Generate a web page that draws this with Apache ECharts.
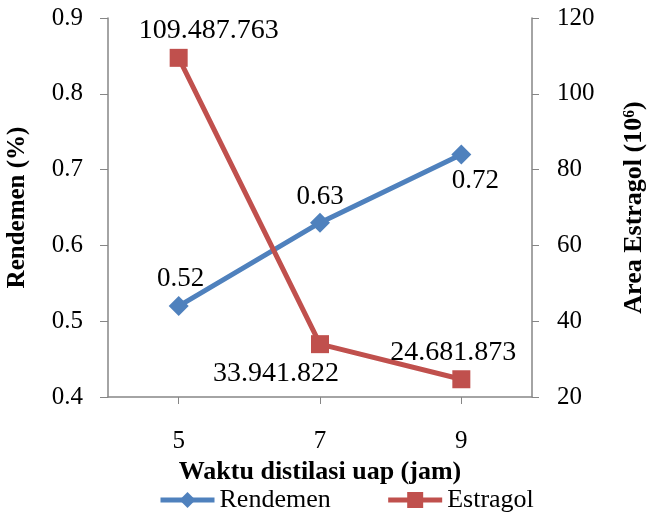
<!DOCTYPE html>
<html>
<head>
<meta charset="utf-8">
<script src="https://cdn.jsdelivr.net/npm/echarts@6/dist/echarts.min.js"></script>
<style>
  html, body { margin: 0; padding: 0; background: #fff; }
  #chart { width: 647px; height: 514px; }
</style>
</head>
<body>
<div id="chart"></div>
<script>
// Distillation time (hours)
const categories = ['5', '7', '9'];
// Yield (%)
const rendemen = [0.52, 0.63, 0.72];
const rendemenLabels = ['0.52', '0.63', '0.72'];
// Estragol peak area (x10^6)
const estragol = [109.487763, 33.941822, 24.681873];
const estragolLabels = ['109.487.763', '33.941.822', '24.681.873'];

const FONT = '"Liberation Serif", "Times New Roman", serif';
const AXIS_GRAY = '#868686';
const BLUE = '#4F81BD';
const RED = '#C0504D';

// per-point label placement
const rendemenPos = [
  { position: 'top', offset: [2, 1] },
  { position: 'top', offset: [0, 3] },
  { position: 'bottom', offset: [14, -2] }
];
const estragolPos = [
  { position: 'top', offset: [30, 1] },
  { position: 'bottom', offset: [-44, 1] },
  { position: 'top', offset: [-8, 1] }
];

const chart = echarts.init(document.getElementById('chart'), null, { renderer: 'canvas' });

chart.setOption({
  animation: false,
  textStyle: { fontFamily: FONT },
  grid: { left: 108, right: 115, top: 18, bottom: 117, containLabel: false, outerBoundsMode: 'none' },
  legend: {
    bottom: -4,
    left: 153,
    itemGap: 55,
    itemWidth: 54,
    itemHeight: 20,
    textStyle: { fontFamily: FONT, fontSize: 26, color: '#000' },
    lineStyle: { width: 5 },
    data: ['Rendemen', 'Estragol']
  },
  xAxis: {
    type: 'category',
    data: categories,
    boundaryGap: true,
    name: 'Waktu distilasi uap (jam)',
    nameLocation: 'middle',
    nameGap: 55,
    nameTextStyle: { fontFamily: FONT, fontSize: 26, fontWeight: 'bold', color: '#000' },
    axisLine: { lineStyle: { color: AXIS_GRAY, width: 1.5 } },
    axisTick: { show: true, alignWithLabel: true, length: 7, lineStyle: { color: AXIS_GRAY } },
    axisLabel: { fontFamily: FONT, fontSize: 25, color: '#000', margin: 32 },
    splitLine: { show: false }
  },
  yAxis: [
    {
      type: 'value',
      min: 0.4, max: 0.9, interval: 0.1,
      name: 'Rendemen (%)',
      nameLocation: 'middle',
      nameGap: 78,
      nameTextStyle: { fontFamily: FONT, fontSize: 25, fontWeight: 'bold', color: '#000' },
      axisLine: { show: true, lineStyle: { color: AXIS_GRAY, width: 1.5 } },
      axisTick: { show: true, length: 8, lineStyle: { color: AXIS_GRAY } },
      axisLabel: { fontFamily: FONT, fontSize: 25, color: '#000', margin: 25,
        formatter: v => v.toFixed(1) },
      splitLine: { show: false }
    },
    {
      type: 'value',
      min: 20, max: 120, interval: 20,
      name: 'Area Estragol (10⁶)',
      nameLocation: 'middle',
      nameGap: 89,
      nameRotate: 90,
      nameTextStyle: { fontFamily: FONT, fontSize: 26, fontWeight: 'bold', color: '#000' },
      axisLine: { show: true, lineStyle: { color: AXIS_GRAY, width: 1.5 } },
      axisTick: { show: true, length: 7, lineStyle: { color: AXIS_GRAY } },
      axisLabel: { fontFamily: FONT, fontSize: 25, color: '#000', margin: 25 },
      splitLine: { show: false }
    }
  ],
  series: [
    {
      name: 'Rendemen',
      type: 'line',
      yAxisIndex: 0,
      symbol: 'diamond',
      symbolSize: 20,
      itemStyle: { color: BLUE },
      lineStyle: { color: BLUE, width: 5 },
      data: rendemen.map((v, i) => ({
        value: v,
        label: {
          show: true,
          formatter: rendemenLabels[i],
          fontFamily: FONT, fontSize: 27, color: '#000',
          position: rendemenPos[i].position,
          offset: rendemenPos[i].offset
        }
      }))
    },
    {
      name: 'Estragol',
      type: 'line',
      yAxisIndex: 1,
      symbol: 'rect',
      symbolSize: 18,
      itemStyle: { color: RED },
      lineStyle: { color: RED, width: 5 },
      data: estragol.map((v, i) => ({
        value: v,
        label: {
          show: true,
          formatter: estragolLabels[i],
          fontFamily: FONT, fontSize: 28, color: '#000',
          position: estragolPos[i].position,
          offset: estragolPos[i].offset
        }
      }))
    }
  ]
});
</script>
</body>
</html>
